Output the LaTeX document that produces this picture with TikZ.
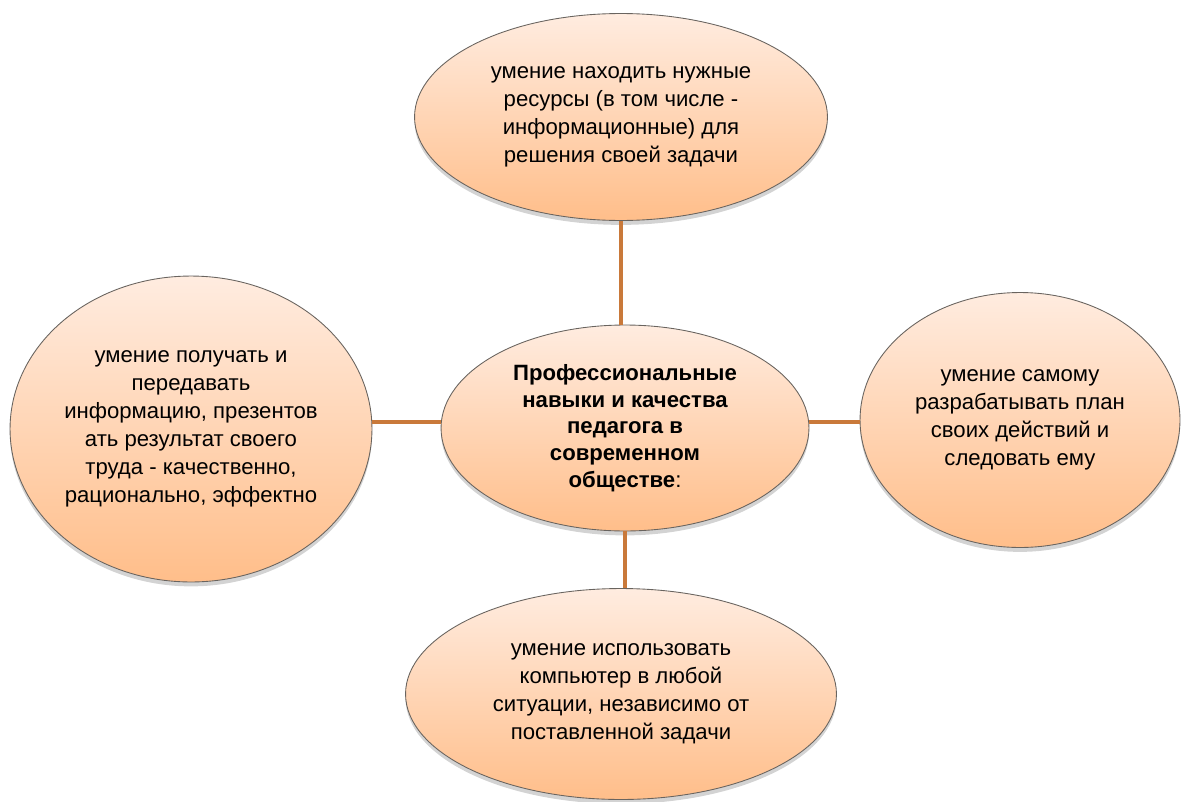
\documentclass[tikz,border=0pt]{standalone}
\usepackage{fontspec}
\setmainfont{Liberation Sans}
\usetikzlibrary{shapes.geometric, shadows, positioning}

\definecolor{peachtop}{RGB}{255,236,224}
\definecolor{peachbot}{RGB}{255,190,138}
\definecolor{wirecol}{RGB}{201,121,58}
\definecolor{rimcol}{RGB}{105,100,95}

\begin{document}
\begin{tikzpicture}[
    x=0.02cm, y=-0.02cm,
    % Styles
    skill/.style={ellipse, draw=rimcol, line width=0.5pt, top color=peachtop, bottom color=peachbot,
        align=center, inner sep=0pt, font=\fontsize{12.6}{15.9}\selectfont,
        drop shadow={opacity=0.35, shadow xshift=0pt, shadow yshift=-2.5pt}},
    core/.style={skill, font=\fontsize{12.6}{15.2}\selectfont\bfseries},
    wire/.style={draw=wirecol, line width=2.3pt}
]
    \useasboundingbox (0,0) rectangle (1182,801);

    % --- CENTRE ---
    \node[core, minimum width=7.36cm, minimum height=4.12cm] (core) at (625,428)
        {Профессиональные\\навыки и качества\\педагога в\\современном\\обществе\textmd{:}};

    % --- TOP ---
    \node[skill, minimum width=8.26cm, minimum height=4.14cm] (top) at (621,117)
        {умение находить нужные\\ресурсы (в том числе -\\информационные) для\\решения своей задачи};

    % --- LEFT ---
    \node[skill, minimum width=7.24cm, minimum height=6.12cm] (left) at (191,429)
        {умение получать и\\передавать\\информацию, презентов\\ать результат своего\\труда - качественно,\\рационально, эффектно};

    % --- RIGHT ---
    \node[skill, minimum width=6.4cm, minimum height=5.1cm] (right) at (1020,420)
        {умение самому\\разрабатывать план\\своих действий и\\следовать ему};

    % --- BOTTOM ---
    \node[skill, minimum width=8.62cm, minimum height=4.22cm] (bottom) at (621,694)
        {умение использовать\\компьютер в любой\\ситуации, независимо от\\поставленной задачи};

    % Connectors
    \draw[wire] (top.south) -- (top.south |- core.north);
    \draw[wire] (core.south) -- (core.south |- bottom.north);
    \draw[wire] (left.east |- 0,422) -- (core.west |- 0,422);
    \draw[wire] (core.east |- 0,422) -- (right.west |- 0,422);

\end{tikzpicture}
\end{document}
